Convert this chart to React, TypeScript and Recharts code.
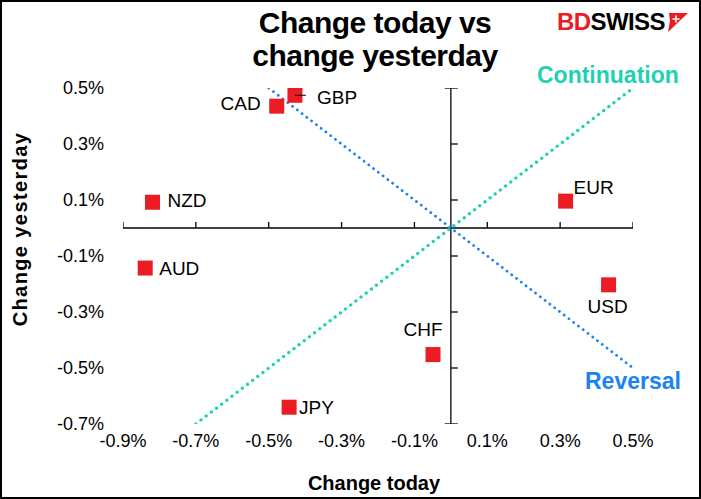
import { ScatterChart, Scatter, XAxis, YAxis, ReferenceLine } from "recharts";

// values (in %)
const currencies = ["GBP", "CAD", "NZD", "AUD", "EUR", "USD", "CHF", "JPY"];
const changeToday = [-0.428, -0.478, -0.819, -0.839, 0.315, 0.433, -0.049, -0.444];
const changeYesterday = [0.474, 0.435, 0.092, -0.143, 0.096, -0.203, -0.452, -0.64];

const xTicks = [-0.9, -0.7, -0.5, -0.3, -0.1, 0.1, 0.3, 0.5];
const yTicks = [0.5, 0.3, 0.1, -0.1, -0.3, -0.5, -0.7];

const continuationX = [-0.7, 0.5];
const continuationY = [-0.7, 0.5];
const reversalX = [-0.5, 0.5];
const reversalY = [0.5, -0.5];

const FONT = '"Liberation Sans", Arial, sans-serif';
const RED = "#ec1c24";
const TEAL = "#1fd1b3";
const BLUE = "#1a82f2";

// where each label sits relative to its marker
const labelPos: Record<string, { dx: number; dy: number; anchor: "start" | "middle" | "end"; leader?: boolean }> = {
  GBP: { dx: 22, dy: 2, anchor: "start", leader: true },
  CAD: { dx: -16, dy: -3, anchor: "end" },
  NZD: { dx: 15, dy: -2, anchor: "start" },
  AUD: { dx: 14, dy: 0, anchor: "start" },
  EUR: { dx: 8, dy: -14, anchor: "start" },
  USD: { dx: -1, dy: 21, anchor: "middle" },
  CHF: { dx: -10, dy: -25, anchor: "middle" },
  JPY: { dx: 10, dy: 0, anchor: "start" },
};

const points = currencies.map((name, i) => ({ name, x: changeToday[i], y: changeYesterday[i] }));
const continuation = continuationX.map((x, i) => ({ x, y: continuationY[i] }));
const reversal = reversalX.map((x, i) => ({ x, y: reversalY[i] }));
const xMarks = xTicks.map((x) => ({ x, y: 0 }));
const yMarks = yTicks.map((y) => ({ x: 0, y }));

const pct = (v: number) => `${v.toFixed(1)}%`;

const Square = (props: any) => {
  const { cx, cy, payload } = props;
  const lp = labelPos[payload.name];
  return (
    <g>
      <rect x={cx - 7.5} y={cy - 7.5} width={15} height={15} fill={RED} />
      {lp.leader && <line x1={cx} y1={cy} x2={cx + 11} y2={cy} stroke="#000" strokeWidth={1} />}
      <text
        x={cx + lp.dx}
        y={cy + lp.dy}
        dy="0.355em"
        textAnchor={lp.anchor}
        fontSize={19}
        fontFamily={FONT}
        fill="#000"
      >
        {payload.name}
      </text>
    </g>
  );
};

const XMark = (props: any) => (
  <line x1={props.cx} y1={props.cy} x2={props.cx} y2={props.cy - 6} stroke="#000" strokeWidth={1.3} />
);

const YMark = (props: any) => {
  const end = props.payload.y === yTicks[0] || props.payload.y === yTicks[yTicks.length - 1];
  return (
    <line x1={props.cx - (end ? 6 : 0)} y1={props.cy} x2={props.cx + 7} y2={props.cy} stroke="#000" strokeWidth={1.3} />
  );
};

const Nothing = () => <g />;

export default function App() {
  return (
    <div
      style={{
        position: "absolute",
        left: 0,
        top: 0,
        width: 701,
        height: 499,
        background: "#fff",
        fontFamily: FONT,
        overflow: "hidden",
      }}
    >
      <ScatterChart width={701} height={499} margin={{ top: 88, right: 68, bottom: 35, left: 10 }}>
        <XAxis
          type="number"
          dataKey="x"
          domain={[-0.9, 0.5]}
          ticks={xTicks}
          tickFormatter={pct}
          axisLine={false}
          tickLine={false}
          tickSize={0}
          tickMargin={10}
          height={40}
          tick={{ fontSize: 18, fill: "#000", fontFamily: FONT }}
          allowDataOverflow
        />
        <YAxis
          type="number"
          dataKey="y"
          domain={[-0.7, 0.5]}
          ticks={yTicks}
          tickFormatter={pct}
          axisLine={false}
          tickLine={false}
          tickSize={0}
          tickMargin={19}
          width={113}
          tick={{ fontSize: 18, fill: "#000", fontFamily: FONT }}
          allowDataOverflow
        />
        <ReferenceLine x={0} stroke="#000" strokeWidth={1.3} />
        <ReferenceLine y={0} stroke="#000" strokeWidth={1.3} />
        <Scatter data={xMarks} shape={XMark} isAnimationActive={false} legendType="none" />
        <Scatter data={yMarks} shape={YMark} isAnimationActive={false} legendType="none" />
        <Scatter
          data={continuation}
          shape={Nothing}
          line={{ stroke: TEAL, strokeWidth: 3.3, strokeDasharray: "0.01 6.5", strokeLinecap: "round" }}
          isAnimationActive={false}
          legendType="none"
        />
        <Scatter
          data={reversal}
          shape={Nothing}
          line={{ stroke: BLUE, strokeWidth: 2.8, strokeDasharray: "0.01 6", strokeLinecap: "round" }}
          isAnimationActive={false}
          legendType="none"
        />
        <Scatter data={points} shape={Square} isAnimationActive={false} legendType="none" />
      </ScatterChart>

      <div
        style={{
          position: "absolute",
          left: 175,
          top: 6,
          width: 400,
          textAlign: "center",
          fontSize: 30,
          fontWeight: 700,
          letterSpacing: -0.5,
          lineHeight: "33px",
          color: "#000",
        }}
      >
        Change today vs
        <br />
        change yesterday
      </div>

      <div
        style={{
          position: "absolute",
          left: 557,
          top: 9,
          display: "flex",
          alignItems: "center",
          fontSize: 24,
          fontWeight: 700,
          letterSpacing: -0.6,
          lineHeight: "26px",
        }}
      >
        <span style={{ color: RED }}>BD</span>
        <span style={{ color: "#000" }}>SWISS</span>
        <svg width={22} height={20} style={{ marginLeft: 1 }}>
          <polygon points="3,1 22,1 2,20 4,9" fill={RED} />
          <path d="M10 3.5 V10.5 M6.5 7 H13.5" stroke="#fff" strokeWidth={1.6} />
        </svg>
      </div>

      <div style={{ position: "absolute", left: 537, top: 61, fontSize: 23, fontWeight: 700, color: TEAL, lineHeight: "28px" }}>
        Continuation
      </div>
      <div style={{ position: "absolute", left: 585, top: 367, fontSize: 23, fontWeight: 700, color: BLUE, lineHeight: "28px" }}>
        Reversal
      </div>

      <div
        style={{
          position: "absolute",
          left: 20,
          top: 229,
          transform: "translate(-50%, -50%) rotate(-90deg)",
          whiteSpace: "nowrap",
          fontSize: 20,
          fontWeight: 700,
          letterSpacing: 1.4,
        }}
      >
        Change yesterday
      </div>
      <div
        style={{
          position: "absolute",
          left: 374,
          top: 483,
          transform: "translate(-50%, -50%)",
          whiteSpace: "nowrap",
          fontSize: 20,
          fontWeight: 700,
        }}
      >
        Change today
      </div>

      <div
        style={{
          position: "absolute",
          inset: 0,
          border: "2px solid #000",
          boxSizing: "border-box",
          pointerEvents: "none",
        }}
      />
    </div>
  );
}
